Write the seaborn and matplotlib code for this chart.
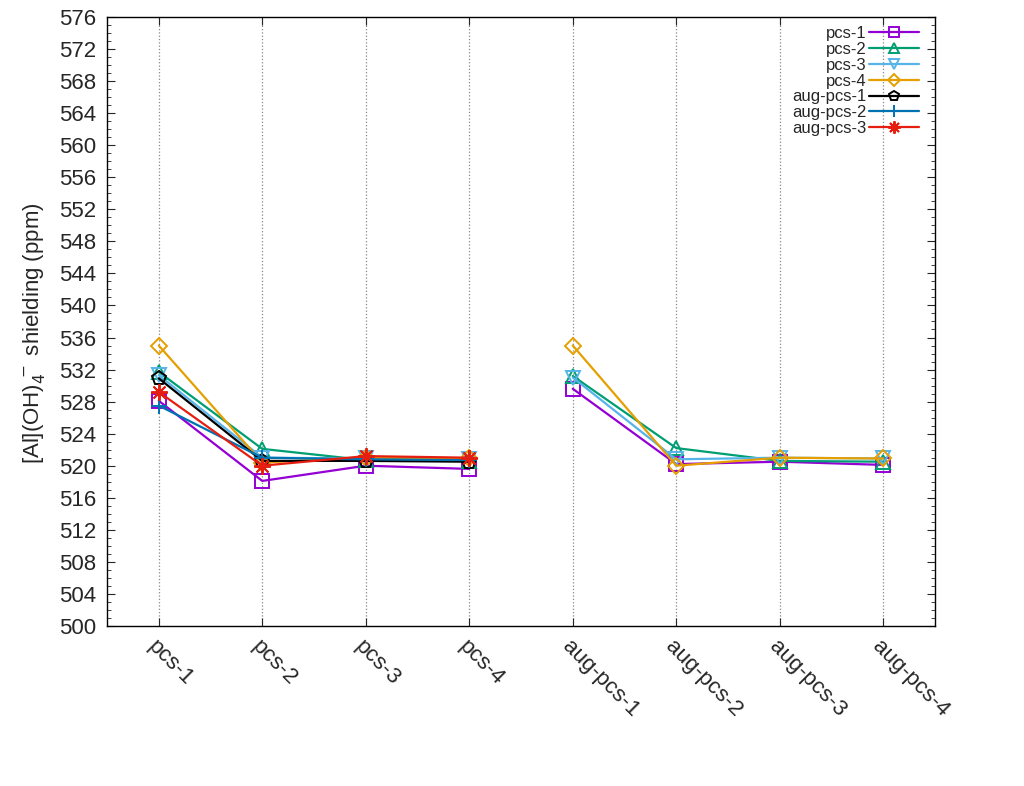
"""Al(OH)4- shielding vs basis set - recreated with seaborn"""

import pandas as pd
import matplotlib
matplotlib.use('Agg')
import matplotlib.pyplot as plt
from matplotlib.lines import Line2D
from matplotlib.ticker import MultipleLocator
import seaborn as sns

# x categories (basis sets on the axis)
categories = ['pcs-1', 'pcs-2', 'pcs-3', 'pcs-4',
              'aug-pcs-1', 'aug-pcs-2', 'aug-pcs-3', 'aug-pcs-4']

# series values (None = not computed)
pcs_1 = [528.1, 518.1, 520.0, 519.6, 529.6, 520.2, 520.5, 520.1]
pcs_2 = [531.7, 522.1, 520.7, 520.6, 531.2, 522.2, 520.6, 520.5]
pcs_3 = [531.3, 521.0, 520.9, 520.8, 531.0, 520.8, 521.0, 520.9]
pcs_4 = [535.0, 520.4, 521.0, 520.9, 535.0, 520.0, 521.0, 520.9]
aug_pcs_1 = [530.9, 520.6, 520.6, 520.5, None, None, None, None]
aug_pcs_2 = [527.5, 521.0, 520.8, 520.7, None, None, None, None]
aug_pcs_3 = [529.2, 520.0, 521.2, 521.0, None, None, None, None]

series_names = ['pcs-1', 'pcs-2', 'pcs-3', 'pcs-4',
                'aug-pcs-1', 'aug-pcs-2', 'aug-pcs-3']
series_values = [pcs_1, pcs_2, pcs_3, pcs_4, aug_pcs_1, aug_pcs_2, aug_pcs_3]

colors = ['#9400d3', '#009e73', '#56b4e9', '#e69f00', '#000000', '#0072b2', '#e51e10']
markers = ['s', '^', 'v', 'D', 'p', '+', (8, 2, 0)]
msizes = [10, 10, 10, 8, 10, 12, 12]

# long-form table; two separate blocks -> gap between pcs-4 and aug-pcs-1
rows = []
for name, vals in zip(series_names, series_values):
    for i, v in enumerate(vals):
        if v is None:
            continue
        rows.append({'series': name, 'x': i, 'y': v, 'block': 'a' if i < 4 else 'b'})
df = pd.DataFrame(rows)

sns.set_style('ticks')
plt.rcParams['font.family'] = ['Liberation Sans', 'DejaVu Sans']

fig = plt.figure(figsize=(10.24, 7.86), dpi=100)
ax = fig.add_axes([0.1045, 0.2036, 0.8086, 0.7748])

for name, c, m, ms in zip(series_names, colors, markers, msizes):
    sub = df[df['series'] == name]
    sns.lineplot(data=sub, x='x', y='y', units='block', estimator=None,
                 color=c, marker=m, markersize=ms, markerfacecolor='none',
                 markeredgecolor=c, markeredgewidth=1.4, linewidth=1.6,
                 legend=False, ax=ax)

ax.set_xlim(-0.5, 7.5)
ax.set_ylim(500, 576)
ax.yaxis.set_major_locator(MultipleLocator(4))
ax.yaxis.set_minor_locator(MultipleLocator(1))
ax.set_xticks(range(len(categories)))
ax.set_xticklabels(categories, rotation=-45, ha='left', va='top',
                   rotation_mode='anchor', fontsize=16)
ax.tick_params(axis='y', labelsize=16, pad=8)
ax.tick_params(which='both', direction='in', top=True, right=True)
ax.tick_params(which='major', length=6)
ax.tick_params(which='minor', length=3)
ax.tick_params(axis='x', pad=7)
ax.xaxis.grid(True, linestyle=':', color='#888888', linewidth=0.9)
ax.set_xlabel('')
ax.set_ylabel('[Al](OH)$_4^{\\,-}$ shielding (ppm)', fontsize=16)
ax.yaxis.set_label_coords(-0.072, 0.48)
for sp in ax.spines.values():
    sp.set_linewidth(1.0)
    sp.set_color('black')

# legend: text on the left, sample on the right, small markers
handles = [Line2D([], [], color=c, marker=m, markersize=ms * 0.75,
                  markerfacecolor='none', markeredgecolor=c,
                  markeredgewidth=1.4, linewidth=1.6)
           for c, m, ms in zip(colors, markers, msizes)]
ax.legend(handles, series_names, loc='upper right',
          bbox_to_anchor=(0.992, 1.0), borderaxespad=0.15,
          markerfirst=False, frameon=False,
          fontsize=12, labelspacing=0.05, handlelength=3.0, handletextpad=0.15)

plt.savefig('out.png', dpi=100)
plt.close()
